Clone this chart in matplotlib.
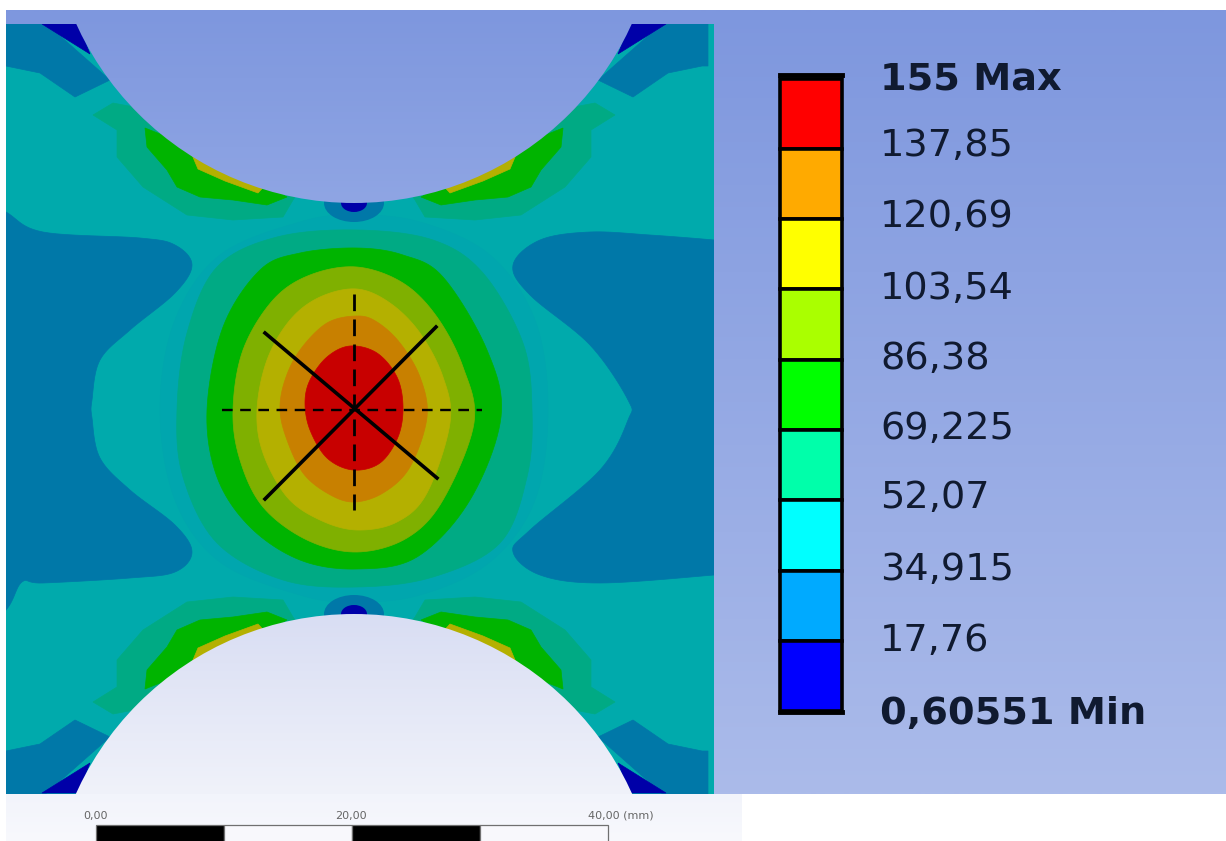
import numpy as np
import matplotlib
matplotlib.use("Agg")
import matplotlib.pyplot as plt
from matplotlib.patches import Circle, Ellipse, Polygon, Rectangle

# ---- legend ----
legend_values = ["155 Max", "137,85", "120,69", "103,54", "86,38", "69,225",
                 "52,07", "34,915", "17,76", "0,60551 Min"]
legend_colors = ["#FF0000", "#FFAA00", "#FFFF00", "#AAFF00", "#00FF00",
                 "#00FFAA", "#00FFFF", "#00AAFF", "#0000FF"]

# ---- scale bar ----
scale_ticks_mm = [0, 20, 40]
scale_labels = ["0,00", "20,00", "40,00 (mm)"]
scale_edges_mm = [0, 10, 20, 30, 40]

# ---- contour outlines (image pixels) ----
ring_band = [(160,409),(175,320),(220,255),(300,222),(354,215),(420,222),(490,255),(535,320),
             (548,409),(535,500),(490,562),(420,595),(354,602),(300,595),(220,562),(175,500)]
ring_tealgreen = [(177,410),(183,477),(217,543),(283,580),(357,587),(433,577),(500,543),(527,477),
                  (532,410),(523,343),(483,273),(433,240),(357,230),(277,237),(217,267),(187,333)]
ring_green = [(207,410),(217,477),(250,527),(300,560),(357,569),(417,557),(470,500),(501,417),
              (487,350),(443,277),(403,255),(357,248),(300,253),(260,270),(223,327)]
ring_yellowgreen = [(233,410),(240,460),(263,507),(307,540),(357,552),(407,538),(443,500),(474,423),
                    (463,367),(437,317),(403,283),(357,267),(310,275),(273,300),(243,350)]
ring_yellow = [(257,410),(263,453),(287,497),(320,520),(357,530),(397,522),(427,493),(450,423),
               (443,377),(420,333),(390,303),(357,289),(320,297),(290,320),(267,360)]
ring_orange = [(280,410),(287,440),(303,473),(327,493),(353,502),(383,493),(410,467),(427,417),
               (420,377),(400,343),(377,322),(357,316),(327,323),(300,350),(285,380)]
ring_red = [(305,403),(310,430),(327,458),(353,470),(380,463),(398,437),(403,407),(397,377),
            (377,353),(350,346),(327,357),(310,380)]

side_left = [(-30,190),(6,212),(43,232),(140,238),(175,245),(192,265),(175,293),(130,330),(100,360),(92,400),
             (92,418),(100,458),(130,490),(175,525),(192,552),(175,572),(130,578),(43,583),(22,582),(6,610),(-30,640)]
side_right = [(760,245),(714,240),(650,235),(590,232),(540,240),(513,265),(530,295),(590,345),(628,400),
              (628,420),(600,470),(530,530),(513,552),(540,575),(600,583),(714,575),(760,570)]

corner_blue = [(0,20),(42,20),(110,80),(75,97),(40,73),(6,66),(0,66)]
corner_navy = [(42,24),(78,24),(90,54)]
band_tealgreen = [(93,115),(113,103),(150,110),(300,190),(293,200),(283,217),(233,220),(187,215),
                  (143,187),(117,157),(117,130)]
band_green = [(145,128),(200,150),(287,197),(267,205),(233,200),(200,197),(177,187),(167,170),(147,147)]
band_yellow = [(190,150),(270,180),(258,193),(225,181),(198,169)]

# ---- palette ----
C_TEAL = "#00AAAC"
C_BAND = "#00A6AE"
C_TEALGREEN = "#00AA84"
C_GREEN = "#00B400"
C_YG = "#7FB000"
C_YELLOW = "#B4B000"
C_ORANGE = "#C88000"
C_RED = "#C80000"
C_BLUE = "#0078A8"
C_NAVY = "#0000A8"


def spline(pts, n=12):
    """Closed Catmull-Rom curve through the outline points."""
    p = np.asarray(pts, float)
    t = np.linspace(0, 1, n, endpoint=False)[:, None]
    out = []
    for i in range(len(p)):
        a, b, c, d = p[i - 1], p[i], p[(i + 1) % len(p)], p[(i + 2) % len(p)]
        out.append(0.5 * (2 * b + (c - a) * t + (2 * a - 5 * b + 4 * c - d) * t ** 2
                          + (3 * b - a - 3 * c + d) * t ** 3))
    return np.vstack(out)


def mx(pts):
    return [(708 - x, y) for x, y in pts]


def my(pts):
    return [(x, 817 - y) for x, y in pts]


def gradient(ax, extent, top, bottom, clip=None, z=1):
    c0, c1 = matplotlib.colors.to_rgb(top), matplotlib.colors.to_rgb(bottom)
    t = np.linspace(0, 1, 256)[:, None, None]
    img = (1 - t) * np.array(c0)[None, None, :] + t * np.array(c1)[None, None, :]
    im = ax.imshow(img, extent=extent, aspect="auto", zorder=z, interpolation="bilinear")
    if clip is not None:
        im.set_clip_path(clip)
    return im


fig = plt.figure(figsize=(12.26, 8.41), dpi=100)
ax = fig.add_axes([0, 0, 1, 1])
ax.axis("off")

# backgrounds
gradient(ax, (6, 1226, 794, 10), "#7E97DE", "#ABBBEA", z=1)
gradient(ax, (6, 742, 841, 794), "#F2F4FB", "#F8F9FD", z=1)

# contour field
field = Rectangle((6, 24), 708, 770, transform=ax.transData)


def fill(pts, color, zz, curved=False):
    p = spline(pts) if curved else np.asarray(pts, float)
    patch = Polygon(p, closed=True, fc=color, ec=color, lw=0.5, zorder=zz)
    ax.add_patch(patch)
    patch.set_clip_path(field)


ax.add_patch(Rectangle((6, 24), 708, 770, fc=C_TEAL, ec="none", zorder=2))
fill(side_left, C_BLUE, 2.1, True)
fill(side_right, C_BLUE, 2.1, True)

for quad in (lambda p: p, mx, my, lambda p: my(mx(p))):
    fill(quad(corner_blue), C_BLUE, 2.2)
    fill(quad(corner_navy), C_NAVY, 2.3)
    fill(quad(band_tealgreen), C_TEALGREEN, 2.2)
    fill(quad(band_green), C_GREEN, 2.3)
    fill(quad(band_yellow), C_YELLOW, 2.4)

for i, (pts, col) in enumerate([(ring_band, C_BAND), (ring_tealgreen, C_TEALGREEN), (ring_green, C_GREEN),
                                (ring_yellowgreen, C_YG), (ring_yellow, C_YELLOW),
                                (ring_orange, C_ORANGE), (ring_red, C_RED)]):
    fill(pts, col, 3 + i * 0.1, True)

for yc in (203, 614):
    ax.add_patch(Ellipse((354, yc), 60, 38, fc=C_BLUE, ec="none", zorder=3.8))
    ax.add_patch(Ellipse((354, yc), 26, 18, fc=C_NAVY, ec="none", zorder=3.9))

# cylinders
R = 305
top_c = Circle((354, -102), R, transform=ax.transData)
bot_c = Circle((354, 919), R, transform=ax.transData)
gradient(ax, (6, 742, 215, 10), "#7E97DE", "#90A6E4", clip=top_c, z=4)
gradient(ax, (6, 742, 794, 610), "#D8DDF3", "#F0F2FA", clip=bot_c, z=4)

# cross lines
ax.plot([265, 437], [333, 478], color="black", lw=2.6, zorder=5)
ax.plot([265, 436], [499, 327], color="black", lw=2.6, zorder=5)
ax.plot([222, 482], [410, 410], color="black", lw=1.7, zorder=5, dashes=(4.5, 3.2))
ax.plot([354, 354], [294, 510], color="black", lw=2.0, zorder=5, dashes=(6, 3))

# legend bar
n = len(legend_colors)
bar_top, bar_step = 78.5, 70.3
edges = bar_top + bar_step * np.arange(n + 1)
ax.bar([811] * n, np.diff(edges), width=62, bottom=edges[:-1], color=legend_colors,
       edgecolor="black", linewidth=2.6, zorder=6)
ax.plot([780, 842], [74.5, 74.5], color="black", lw=3.5, zorder=6)
ax.plot([780, 842], [712, 712], color="black", lw=3.5, zorder=6)

label_y = [79, 146, 217, 289, 359, 429, 498, 570, 641, 714]
for i, (txt, y) in enumerate(zip(legend_values, label_y)):
    bold = i in (0, n)
    ax.text(880, y, txt, fontsize=27.5, family="DejaVu Sans", color="#101A30",
            fontweight="bold" if bold else "normal", va="center", ha="left", zorder=7)

# scale bar
px_per_mm = 12.8
for i in range(len(scale_edges_mm) - 1):
    x0 = 96 + scale_edges_mm[i] * px_per_mm
    x1 = 96 + scale_edges_mm[i + 1] * px_per_mm
    ax.add_patch(Rectangle((x0, 825), x1 - x0, 20, fc="black" if i % 2 == 0 else "#F8F8FC",
                           ec="#707070", lw=0.9, zorder=7))
for mm, lab in zip(scale_ticks_mm, scale_labels):
    x = 96 + mm * px_per_mm
    if mm == 40:
        ax.text(588, 816, lab, fontsize=8, color="#666666", ha="left", va="center",
                family="DejaVu Sans", zorder=7)
    else:
        ax.text(x - 1, 816, lab, fontsize=8, color="#666666", ha="center", va="center",
                family="DejaVu Sans", zorder=7)

ax.set_xlim(0, 1226)
ax.set_ylim(841, 0)
fig.savefig("out.png", dpi=100, facecolor="white")
